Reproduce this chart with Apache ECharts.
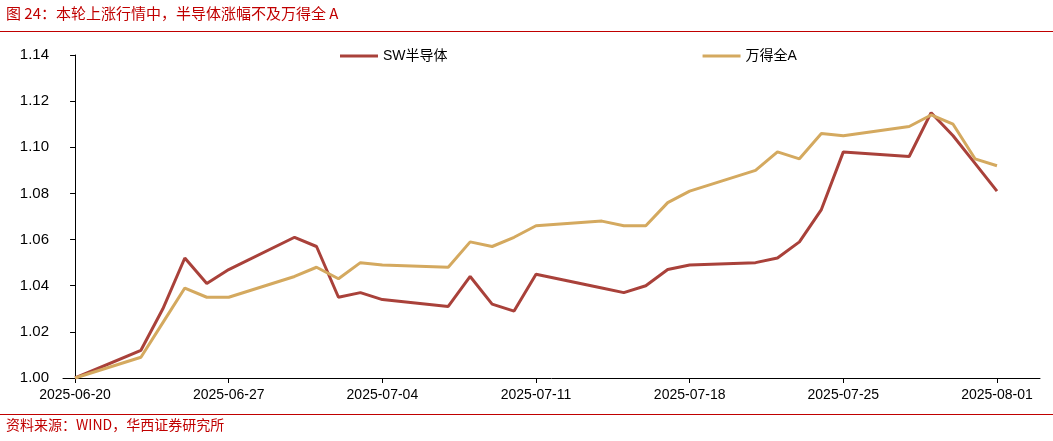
<!DOCTYPE html>
<html><head><meta charset="utf-8">
<script src="https://cdn.jsdelivr.net/npm/echarts@6/dist/echarts.min.js"></script>
<style>html,body{margin:0;background:#fff}#c{width:1053px;height:441px}</style>
</head><body><div id="c"></div>
<script>
const dates = ['2025-06-20','2025-06-23','2025-06-24','2025-06-25','2025-06-26','2025-06-27','2025-06-30','2025-07-01','2025-07-02','2025-07-03','2025-07-04','2025-07-07','2025-07-08','2025-07-09','2025-07-10','2025-07-11','2025-07-14','2025-07-15','2025-07-16','2025-07-17','2025-07-18','2025-07-21','2025-07-22','2025-07-23','2025-07-24','2025-07-25','2025-07-28','2025-07-29','2025-07-30','2025-07-31','2025-08-01']
const swSemi = [1.000,1.012,1.030,1.052,1.041,1.047,1.061,1.057,1.035,1.037,1.034,1.031,1.044,1.032,1.029,1.045,1.039,1.037,1.040,1.047,1.049,1.050,1.052,1.059,1.073,1.098,1.096,1.115,1.105,1.093,1.081]
const windA = [1.000,1.009,1.024,1.039,1.035,1.035,1.044,1.048,1.043,1.050,1.049,1.048,1.059,1.057,1.061,1.066,1.068,1.066,1.066,1.076,1.081,1.090,1.098,1.095,1.106,1.105,1.109,1.114,1.110,1.095,1.092]
const tickDays = [0,7,14,21,28,35,42]

const base = Date.UTC(2025,5,20)
const dayOf = d => (Date.parse(d+'T00:00:00Z') - base)/86400000
const labelOf = n => new Date(base + n*86400000).toISOString().slice(0,10)

const chart = echarts.init(document.getElementById('c'))
const font = '"Noto Sans CJK SC", sans-serif'
chart.setOption({
  animation:false,
  textStyle:{fontFamily:'Arial, "Noto Sans CJK SC"'},
  graphic:[
    {type:'text',left:6,top:6,style:{text:'图 24：本轮上涨行情中，半导体涨幅不及万得全 A',fill:'#C00000',font:'15px '+font}},
    {type:'rect',shape:{x:0,y:31,width:1053,height:1},style:{fill:'#C00000'}},
    {type:'rect',shape:{x:0,y:414,width:1053,height:1},style:{fill:'#C00000'}},
    {type:'text',left:6,top:418,style:{text:'资料来源：WIND，华西证券研究所',fill:'#C00000',font:'14px '+font}}
  ],
  legend:{top:44,left:335,itemGap:255,itemWidth:38,itemHeight:3,icon:'rect',
    textStyle:{fontSize:14,color:'#000'},data:['SW半导体','万得全A']},
  grid:{left:63,right:13,top:55,bottom:63},
  xAxis:{type:'value',min:-0.55,max:43.96,
    axisLine:{lineStyle:{color:'#000'}},
    axisTick:{show:true,customValues:tickDays,length:5,lineStyle:{color:'#000'}},
    axisLabel:{customValues:tickDays,formatter:v=>labelOf(v),fontSize:14,color:'#000',margin:10},
    splitLine:{show:false}},
  yAxis:{type:'value',min:1,max:1.14,interval:0.02,
    axisLine:{show:true,lineStyle:{color:'#000'}},
    axisTick:{show:true,lineStyle:{color:'#000'}},
    axisLabel:{formatter:v=>v.toFixed(2),fontSize:15,color:'#000',margin:14},
    splitLine:{show:false}},
  series:[
    {name:'SW半导体',type:'line',symbol:'none',color:'#A9413A',lineStyle:{width:3},
      data:dates.map((d,i)=>[dayOf(d),swSemi[i]])},
    {name:'万得全A',type:'line',symbol:'none',color:'#D4A95F',lineStyle:{width:3},
      data:dates.map((d,i)=>[dayOf(d),windA[i]])}
  ]
})
</script></body></html>
